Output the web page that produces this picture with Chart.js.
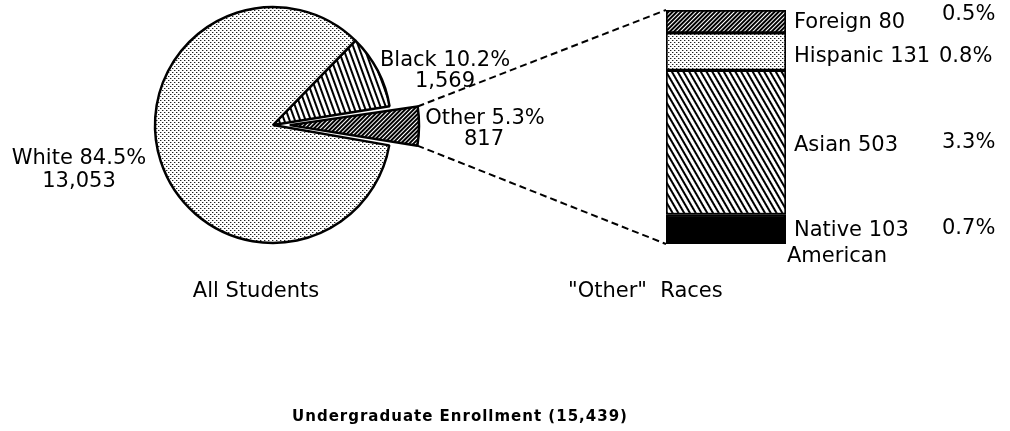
<!DOCTYPE html>
<html>
<head>
<meta charset="utf-8">
<script src="https://cdn.jsdelivr.net/npm/chart.js@4"></script>
<style>
  html, body { margin: 0; padding: 0; background: #fff; }
  #marco { position: relative; width: 1010px; height: 431px; }
  #marco canvas { position: absolute; left: 0; top: 0; }
</style>
</head>
<body>
<div id="marco">
  <canvas id="torta" width="1010" height="431"></canvas>
  <canvas id="barra" width="1010" height="431"></canvas>
</div>
<script>
// datos
const categoriasPie = ['Black', 'Other', 'White']
const valoresPie = [1569, 817, 13053]
const porcentajesPie = ['10.2%', '5.3%', '84.5%']

const categoriasOtras = ['Native American', 'Asian', 'Hispanic', 'Foreign']
const valoresOtras = [103, 503, 131, 80]
const porcentajesOtras = ['0.7%', '3.3%', '0.8%', '0.5%']

const titulo = 'Undergraduate Enrollment (15,439)'
const FUENTE = '"DejaVu Sans", sans-serif'

const ctxTorta = document.getElementById('torta').getContext('2d')

//---> tramas blanco y negro
function rayado(paso, grosor, angulo) {
    const c = document.createElement('canvas')
    c.width = paso
    c.height = paso
    const x = c.getContext('2d')
    x.fillStyle = '#fff'
    x.fillRect(0, 0, paso, paso)
    x.fillStyle = '#000'
    x.fillRect(0, 0, grosor, paso)
    const p = ctxTorta.createPattern(c, 'repeat')
    p.setTransform(new DOMMatrix().rotate(angulo))
    return p
}

function punteado(paso, color) {
    const c = document.createElement('canvas')
    c.width = paso * 2
    c.height = paso * 2
    const x = c.getContext('2d')
    x.fillStyle = '#fff'
    x.fillRect(0, 0, c.width, c.height)
    x.fillStyle = '#aaa'
    x.fillRect(1, 0, 1, 1)
    x.fillRect(paso + 1, paso, 1, 1)
    x.fillStyle = color
    x.fillRect(0, 0, 1, 1)
    x.fillRect(paso, paso, 1, 1)
    return ctxTorta.createPattern(c, 'repeat')
}

const tramaBlack = rayado(5, 2, -20)
const tramaOther = rayado(3, 2, 45)
const tramaWhite = punteado(2, '#222')
const tramasOtras = ['#000', rayado(5, 2, -30), punteado(2, '#222'), rayado(3, 2, 45)]

const graficoTorta = new Chart(ctxTorta, {
    type: 'pie',
    data: {
        labels: categoriasPie,
        datasets: [{
            data: valoresPie,
            backgroundColor: [tramaBlack, tramaOther, tramaWhite],
            borderColor: '#000',
            borderWidth: 2.5,
            offset: [0, 67, 0]
        }]
    },
    options: {
        responsive: false,
        animation: false,
        events: [],
        rotation: 44.3,
        radius: 118,
        layout: { padding: { left: 0, right: 464, top: 0, bottom: 181 } },
        plugins: { legend: { display: false }, tooltip: { enabled: false } }
    }
})

// lineas punteadas y textos
const anotaciones = {
    id: 'anotaciones',
    afterDraw(chart) {
        const ctx = chart.ctx
        const arco = graficoTorta.getDatasetMeta(0).data[1]
        const { x, y, startAngle, endAngle, outerRadius, options } = arco
        const circ = endAngle - startAngle
        const medio = (startAngle + endAngle) / 2
        const t = (options.offset / 4) * (2 - Math.sin(Math.min(Math.PI, circ)))
        const cx = x + Math.cos(medio) * t
        const cy = y + Math.sin(medio) * t
        const arriba = [cx + Math.cos(startAngle) * outerRadius, cy + Math.sin(startAngle) * outerRadius]
        const abajo = [cx + Math.cos(endAngle) * outerRadius, cy + Math.sin(endAngle) * outerRadius]

        const metas = chart.data.datasets.map((d, i) => chart.getDatasetMeta(i).data[0])
        const sup = metas[metas.length - 1]
        const inf = metas[0]

        ctx.save()
        ctx.strokeStyle = '#000'
        ctx.lineWidth = 2
        ctx.setLineDash([7, 4])
        ctx.beginPath()
        ctx.moveTo(arriba[0], arriba[1])
        ctx.lineTo(sup.x - sup.width / 2, sup.y)
        ctx.moveTo(abajo[0], abajo[1])
        ctx.lineTo(inf.x - inf.width / 2, inf.base)
        ctx.stroke()
        ctx.setLineDash([])

        ctx.fillStyle = '#000'
        ctx.textBaseline = 'middle'
        ctx.font = '21px ' + FUENTE

        // etiquetas de la torta
        ctx.textAlign = 'center'
        ctx.fillText('White ' + porcentajesPie[2], 79, 159)
        ctx.fillText(valoresPie[2].toLocaleString('en-US'), 79, 182)
        ctx.fillText('Black ' + porcentajesPie[0], 445, 61)
        ctx.fillText(valoresPie[0].toLocaleString('en-US'), 445, 82)
        ctx.fillText('Other ' + porcentajesPie[1], 485, 119)
        ctx.fillText(valoresPie[1].toLocaleString('en-US'), 484, 140)
        ctx.fillText('All Students', 256, 292)

        ctx.textAlign = 'left'
        ctx.fillText('"Other"  Races', 568, 292)

        // etiquetas de la barra
        ctx.fillText('Foreign ' + valoresOtras[3], 794, 23)
        ctx.fillText('Hispanic ' + valoresOtras[2], 794, 57)
        ctx.fillText('Asian ' + valoresOtras[1], 794, 146)
        ctx.fillText('Native ' + valoresOtras[0], 794, 231)
        ctx.fillText('American', 787, 257)
        ctx.fillText(porcentajesOtras[3], 942, 15)
        ctx.fillText(porcentajesOtras[2], 939, 57)
        ctx.fillText(porcentajesOtras[1], 942, 143)
        ctx.fillText(porcentajesOtras[0], 942, 229)

        ctx.textAlign = 'center'
        ctx.font = 'bold 15px ' + FUENTE
        ctx.letterSpacing = '1px'
        ctx.fillText(titulo, 460, 417)
        ctx.restore()
    }
}

new Chart(document.getElementById('barra'), {
    type: 'bar',
    data: {
        labels: ['Other'],
        datasets: categoriasOtras.map((nombre, i) => ({
            label: nombre,
            data: [valoresOtras[i]],
            backgroundColor: tramasOtras[i],
            borderColor: '#000',
            borderWidth: 2,
            borderSkipped: false,
            barPercentage: 1,
            categoryPercentage: 1
        }))
    },
    options: {
        responsive: false,
        animation: false,
        events: [],
        layout: { padding: { left: 666, right: 224, top: 10, bottom: 187 } },
        scales: {
            x: { display: false, stacked: true },
            y: { display: false, stacked: true, min: 0, max: valoresOtras.reduce((a, b) => a + b, 0) }
        },
        plugins: { legend: { display: false }, tooltip: { enabled: false } }
    },
    plugins: [anotaciones]
})
</script>
</body>
</html>
